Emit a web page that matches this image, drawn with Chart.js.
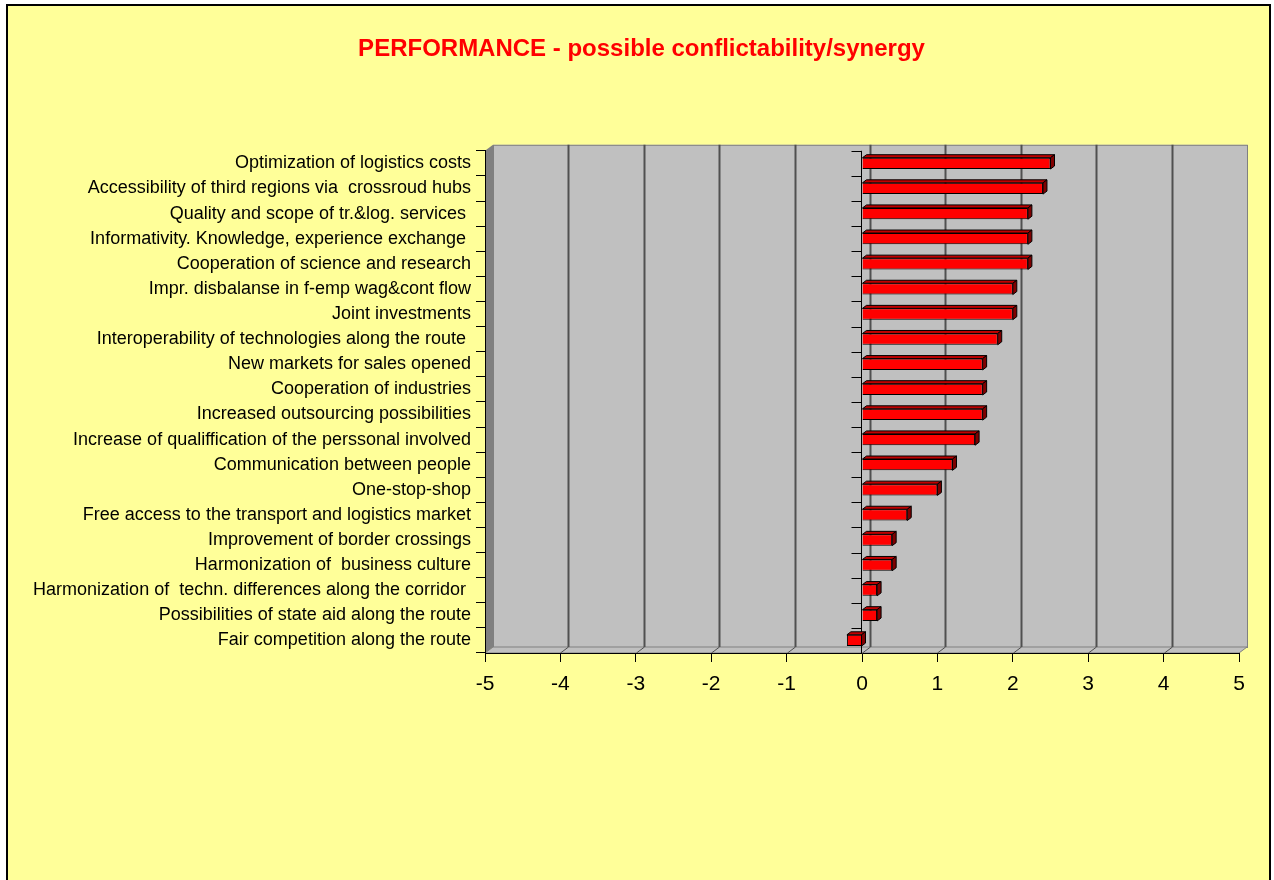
<!DOCTYPE html>
<html>
<head>
<meta charset="utf-8">
<script src="https://cdn.jsdelivr.net/npm/chart.js@4.4.0/dist/chart.umd.min.js"></script>
<style>
  body { margin: 0; background: #fff; }
  #wrap { width: 1274px; height: 880px; }
</style>
</head>
<body>
<div id="wrap"><canvas id="perfChart"></canvas></div>
<script>
// data
const categories = [
  "Optimization of logistics costs",
  "Accessibility of third regions via  crossroud hubs",
  "Quality and scope of tr.&log. services ",
  "Informativity. Knowledge, experience exchange ",
  "Cooperation of science and research",
  "Impr. disbalanse in f-emp wag&cont flow",
  "Joint investments",
  "Interoperability of technologies along the route ",
  "New markets for sales opened",
  "Cooperation of industries",
  "Increased outsourcing possibilities",
  "Increase of qualiffication of the perssonal involved",
  "Communication between people",
  "One-stop-shop",
  "Free access to the transport and logistics market",
  "Improvement of border crossings",
  "Harmonization of  business culture",
  "Harmonization of  techn. differences along the corridor ",
  "Possibilities of state aid along the route",
  "Fair competition along the route"
];
const scores = [2.5, 2.4, 2.2, 2.2, 2.2, 2.0, 2.0, 1.8, 1.6, 1.6, 1.6, 1.5, 1.2, 1.0, 0.6, 0.4, 0.4, 0.2, 0.2, -0.2];
const axisMin = -5;
const axisMax = 5;
const axisStep = 1;

const FONT = "'Liberation Sans', Arial, sans-serif";
const WALL_DX = 8, WALL_DY = -6;   // depth of the 3d walls
const BAR_DX = 4, BAR_DY = -3;     // depth of the 3d bars

// yellow panel, back wall, floor and side wall
const panelPlugin = {
  id: 'panel',
  afterLayout(chart) {
    // title is centred on the whole panel, not on the padded box
    const tb = chart.titleBlock;
    if (tb) {
      tb.left += 22;
      tb.right += 22;
    }
  },
  beforeDraw(chart) {
    const ctx = chart.ctx;
    const a = chart.chartArea;
    const x = chart.scales.x;
    ctx.save();
    ctx.fillStyle = '#fff';
    ctx.fillRect(0, 0, chart.width, chart.height);
    ctx.fillStyle = '#FFFF99';
    ctx.fillRect(7, 5, 1263, chart.height);
    ctx.strokeStyle = '#000';
    ctx.lineWidth = 2;
    ctx.beginPath();
    ctx.moveTo(7, chart.height + 5);
    ctx.lineTo(7, 5);
    ctx.lineTo(1270, 5);
    ctx.lineTo(1270, chart.height + 5);
    ctx.stroke();

    // back wall
    ctx.fillStyle = '#C0C0C0';
    ctx.strokeStyle = '#808080';
    ctx.lineWidth = 1;
    ctx.fillRect(a.left + WALL_DX, a.top + WALL_DY, a.right - a.left, a.bottom - a.top);
    ctx.strokeRect(a.left + WALL_DX + 0.5, a.top + WALL_DY + 0.5, a.right - a.left, a.bottom - a.top);

    // floor
    ctx.beginPath();
    ctx.moveTo(a.left, a.bottom);
    ctx.lineTo(a.left + WALL_DX, a.bottom + WALL_DY);
    ctx.lineTo(a.right + WALL_DX, a.bottom + WALL_DY);
    ctx.lineTo(a.right, a.bottom);
    ctx.closePath();
    ctx.fill();
    ctx.stroke();

    // gridlines on the wall and the floor
    ctx.strokeStyle = '#505050';
    x.ticks.forEach(t => {
      if (t.value === axisMin || t.value === axisMax) return;
      const px = Math.round(x.getPixelForValue(t.value)) + 0.5;
      ctx.lineWidth = 2;
      ctx.beginPath();
      ctx.moveTo(px + WALL_DX, a.top + WALL_DY);
      ctx.lineTo(px + WALL_DX, a.bottom + WALL_DY);
      ctx.stroke();
      ctx.lineWidth = 1;
      ctx.beginPath();
      ctx.moveTo(px + WALL_DX, a.bottom + WALL_DY);
      ctx.lineTo(px, a.bottom);
      ctx.stroke();
    });

    // side wall
    ctx.fillStyle = '#808080';
    ctx.beginPath();
    ctx.moveTo(a.left, a.top);
    ctx.lineTo(a.left + WALL_DX, a.top + WALL_DY);
    ctx.lineTo(a.left + WALL_DX, a.bottom + WALL_DY);
    ctx.lineTo(a.left, a.bottom);
    ctx.closePath();
    ctx.fill();
    ctx.restore();
  },
  beforeDatasetsDraw(chart) {
    // category axis crossing at zero
    const ctx = chart.ctx;
    const a = chart.chartArea;
    const zx = Math.round(chart.scales.x.getPixelForValue(0)) - 0.5;
    const step = (a.bottom - a.top) / categories.length;
    ctx.save();
    ctx.strokeStyle = '#000';
    ctx.lineWidth = 1;
    ctx.beginPath();
    ctx.moveTo(zx, a.top);
    ctx.lineTo(zx, a.bottom);
    for (let i = 0; i < categories.length; i++) {
      const ty = Math.round(a.top + i * step) + 0.5;
      ctx.moveTo(zx - 10, ty);
      ctx.lineTo(zx, ty);
    }
    ctx.stroke();
    ctx.restore();
  },
  afterDatasetsDraw(chart) {
    // top and side faces of the bars
    const ctx = chart.ctx;
    const meta = chart.getDatasetMeta(0);
    ctx.save();
    ctx.strokeStyle = '#000';
    ctx.lineWidth = 1;
    meta.data.forEach(el => {
      const p = el.getProps(['x', 'y', 'base', 'height'], true);
      const l = Math.min(p.x, p.base), r = Math.max(p.x, p.base);
      const t = p.y - p.height / 2, b = p.y + p.height / 2;
      ctx.fillStyle = '#C00000';
      ctx.beginPath();
      ctx.moveTo(l, t);
      ctx.lineTo(l + BAR_DX, t + BAR_DY);
      ctx.lineTo(r + BAR_DX, t + BAR_DY);
      ctx.lineTo(r, t);
      ctx.closePath();
      ctx.fill();
      ctx.stroke();
      ctx.fillStyle = '#800000';
      ctx.beginPath();
      ctx.moveTo(r, t);
      ctx.lineTo(r + BAR_DX, t + BAR_DY);
      ctx.lineTo(r + BAR_DX, b + BAR_DY);
      ctx.lineTo(r, b);
      ctx.closePath();
      ctx.fill();
      ctx.stroke();
    });
    ctx.restore();
  }
};

new Chart(document.getElementById('perfChart'), {
  type: 'bar',
  data: {
    labels: categories,
    datasets: [{
      data: scores,
      backgroundColor: '#FF0000',
      borderColor: '#000',
      borderWidth: 1,
      barPercentage: 0.45,
      categoryPercentage: 1
    }]
  },
  options: {
    indexAxis: 'y',
    responsive: true,
    maintainAspectRatio: false,
    animation: false,
    layout: { padding: { left: 0, right: 35, top: 0, bottom: 0 } },
    plugins: {
      legend: { display: false },
      tooltip: { enabled: false },
      title: {
        display: true,
        text: 'PERFORMANCE - possible conflictability/synergy',
        color: '#FF0000',
        font: { family: FONT, size: 24, weight: 'bold' },
        padding: { top: 35, bottom: 87 }
      }
    },
    scales: {
      x: {
        type: 'linear',
        min: axisMin,
        max: axisMax,
        ticks: { stepSize: axisStep, color: '#000', font: { family: FONT, size: 21 }, padding: 10 },
        grid: { drawOnChartArea: false, tickLength: 9, color: '#000' },
        border: { color: '#000' },
        afterFit(scale) { scale.height = 227; }
      },
      y: {
        ticks: { color: '#000', font: { family: FONT, size: 18 }, padding: 5 },
        grid: { drawOnChartArea: false, tickLength: 9, color: '#000', offset: true },
        border: { color: '#000' },
        afterFit(scale) { scale.width = 485; }
      }
    }
  },
  plugins: [panelPlugin]
});
</script>
</body>
</html>
